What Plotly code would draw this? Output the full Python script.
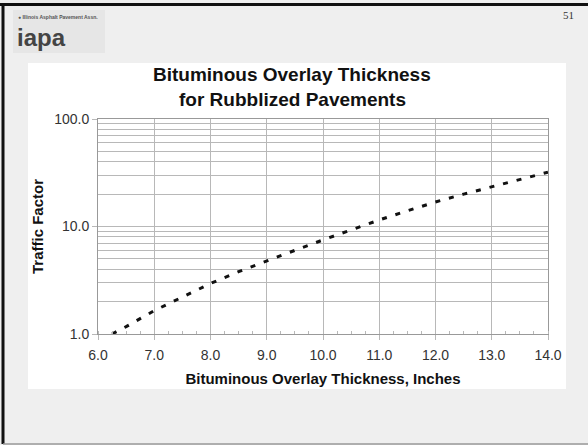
import plotly.graph_objects as go

# Data
thickness = [6.25, 6.5, 7.0, 7.5, 8.0, 8.5, 9.0, 9.5, 10.0, 10.5, 11.0, 11.5, 12.0, 12.5, 13.0, 13.5, 14.0]
traffic = [1.0, 1.17, 1.65, 2.2, 2.95, 3.8, 4.8, 6.0, 7.5, 9.3, 11.5, 14.0, 16.9, 20.0, 23.3, 27.5, 32.0]
x_ticks = [6, 7, 8, 9, 10, 11, 12, 13, 14]
y_ticks = [1, 10, 100]
y_tick_text = ["1.0", "10.0", "100.0"]
y_minor = [2, 3, 4, 5, 6, 7, 8, 9, 20, 30, 40, 50, 60, 70, 80, 90]

W, H = 588, 445
L, R, T, B = 98, 40, 119, 111
PW, PH = W - L - R, H - T - B

def px(x):
    return (x - L) / PW

def py(y):
    return 1 - (y - T) / PH

fig = go.Figure()
fig.add_trace(go.Scatter(
    x=thickness, y=traffic, mode="lines",
    line=dict(color="#111", width=3, dash="5px,9px"),
    showlegend=False, hoverinfo="skip"))

font = "Liberation Sans, Arial, sans-serif"
grid = "#b8b8b8"

fig.update_layout(
    width=W, height=H,
    margin=dict(l=L, r=R, t=T, b=B),
    paper_bgcolor="#efefef",
    plot_bgcolor="white",
    font=dict(family=font, color="#333"),
    xaxis=dict(
        range=[6, 14], tickvals=x_ticks, tickformat=".1f",
        showgrid=True, gridcolor=grid, gridwidth=1,
        ticks="outside", ticklen=5, tickcolor=grid,
        ticklabelstandoff=3,
        showline=True, linecolor="#999", linewidth=1, mirror=True,
        minor=dict(dtick=0.25, tick0=6, ticks="inside", ticklen=3, tickcolor=grid, showgrid=False),
        tickfont=dict(size=14, color="#333"),
        title=dict(text="<b>Bituminous Overlay Thickness, Inches</b>", font=dict(size=15, color="#111"), standoff=11),
        zeroline=False, fixedrange=True,
    ),
    yaxis=dict(
        type="log", range=[0, 2], tickvals=y_ticks, ticktext=y_tick_text,
        showgrid=True, gridcolor=grid, gridwidth=1,
        ticks="outside", ticklen=5, tickcolor=grid,
        showline=True, linecolor="#999", linewidth=1, mirror=True,
        minor=dict(tickvals=y_minor, ticks="", showgrid=True, gridcolor=grid, gridwidth=1),
        tickfont=dict(size=14, color="#333"),
        title=dict(text="<b>Traffic Factor</b>", font=dict(size=15, color="#111"), standoff=6),
        zeroline=False, fixedrange=True,
    ),
)

shapes = []
# white chart card
shapes.append(dict(type="rect", xref="paper", yref="paper",
                   x0=px(28), x1=px(566), y0=py(389), y1=py(63),
                   fillcolor="white", line=dict(width=0), layer="below"))
# logo background
shapes.append(dict(type="rect", xref="paper", yref="paper",
                   x0=px(13), x1=px(105), y0=py(53), y1=py(10),
                   fillcolor="#e6e6e6", line=dict(width=0), layer="below"))
# slide border
shapes.append(dict(type="line", xref="paper", yref="paper",
                   x0=px(0), x1=px(588), y0=py(4.5), y1=py(4.5),
                   line=dict(color="#111", width=3)))
shapes.append(dict(type="line", xref="paper", yref="paper",
                   x0=px(3), x1=px(3), y0=py(4), y1=py(444),
                   line=dict(color="#111", width=3)))
shapes.append(dict(type="line", xref="paper", yref="paper",
                   x0=px(3), x1=px(588), y0=py(444), y1=py(444),
                   line=dict(color="#999", width=1.5)))
fig.update_layout(shapes=shapes)

annotations = [
    dict(text="<b>Bituminous Overlay Thickness</b>", x=px(292), y=py(75),
         font=dict(size=19, color="#111", family=font)),
    dict(text="<b>for Rubblized Pavements</b>", x=px(292), y=py(100),
         font=dict(size=19, color="#111", family=font)),
    dict(text="51", x=px(576), y=py(15),
         font=dict(size=11, color="#333", family="Liberation Serif, Times New Roman, serif")),
    dict(text="<b>● Illinois Asphalt Pavement Assn.</b>", x=px(16), y=py(17), xanchor="left",
         font=dict(size=5, color="#555", family=font)),
    dict(text="<b>iapa</b>", x=px(15), y=py(37), xanchor="left",
         font=dict(size=24, color="#444", family="Liberation Sans Narrow, Arial Narrow, sans-serif")),
]
for a in annotations:
    a.update(xref="paper", yref="paper", showarrow=False, yanchor=a.get("yanchor", "middle"))
fig.update_layout(annotations=annotations)

fig.write_html("out.html")
